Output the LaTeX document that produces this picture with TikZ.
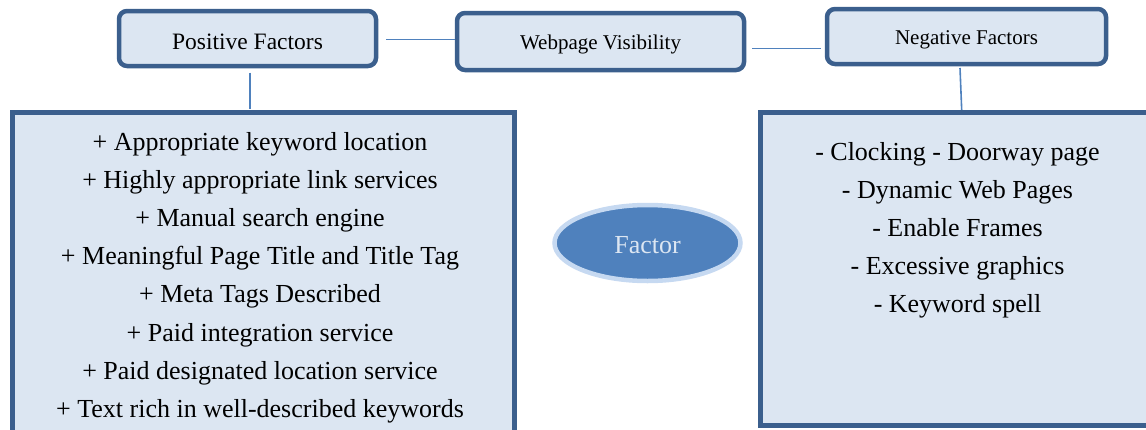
\documentclass[tikz,border=0pt]{standalone}
\usepackage{fontspec}
\setmainfont{Liberation Serif}
\usetikzlibrary{calc}
\definecolor{frame}{HTML}{3B5F8D}
\definecolor{paper}{HTML}{DCE6F2}
\definecolor{wire}{HTML}{4F81BD}
\definecolor{rim}{HTML}{C6D9F1}
\tikzset{
  head/.style={draw=frame, fill=paper, line width=4.5pt, rounded corners=8pt},
  panel/.style={draw=frame, fill=paper, line width=5pt},
  link/.style={draw=wire, line width=1.6pt},
  item/.style={anchor=base, inner sep=0pt, font=\fontsize{26}{30}\selectfont},
  title/.style={anchor=base, inner sep=0pt},
}
\begin{document}
\begin{tikzpicture}[x=1pt, y=-1pt]
\useasboundingbox (0,0) rectangle (1146,429);

% header boxes
\draw[head] (119,11) rectangle (376,66);
\draw[head] (457,13) rectangle (744,70);
\draw[head] (827,9) rectangle (1106,64);
\node[title, font=\fontsize{23.5}{26}\selectfont] (pos) at (247.5,49) {Positive Factors};
\node[title, font=\fontsize{21}{24}\selectfont] (web) at (600.5,49) {Webpage Visibility};
\node[title, font=\fontsize{21}{24}\selectfont] (neg) at (966.5,44) {Negative Factors};

% connectors between the headers and down to the panels
\coordinate (p1) at (386,39.5);
\coordinate (w1) at (455,39.5);
\coordinate (w2) at (752,48.3);
\coordinate (n1) at (821,48.3);
\coordinate (pd) at (250,72.5);
\coordinate (pb) at (250,109);
\coordinate (nd) at (960,68);
\coordinate (nb) at (961.7,110);
\draw[link] (p1) -- (w1);
\draw[link] (w2) -- (n1);
\draw[link] (pd) -- (pb);
\draw[link] (nd) -- (nb);

% panels
\draw[panel] (12,112.5) rectangle (514,445);
\draw[panel] (760,112.5) rectangle (1160,425.5);

% positive list
\foreach \t [count=\i] in {%
  + Appropriate keyword location,
  + Highly appropriate link services,
  + Manual search engine,
  + Meaningful Page Title and Title Tag,
  + Meta Tags Described,
  + Paid integration service,
  + Paid designated location service,
  + Text rich in well-described keywords}
  \node[item] (pl\i) at (260,150+38.2*\i-38.2) {\t};

% negative list
\foreach \t [count=\i] in {%
  - Clocking - Doorway page,
  - Dynamic Web Pages,
  - Enable Frames,
  - Excessive graphics,
  - Keyword spell}
  \node[item] (nl\i) at (957.5,160+38*\i-38) {\t};

% centre ellipse
\draw[draw=rim, fill=wire, line width=4.5pt] (647.5,243) ellipse [x radius=93, y radius=38];
\node[anchor=base, inner sep=0pt, text=paper, font=\fontsize{26}{30}\selectfont] (fac) at (647.5,253) {Factor};
\end{tikzpicture}
\end{document}
